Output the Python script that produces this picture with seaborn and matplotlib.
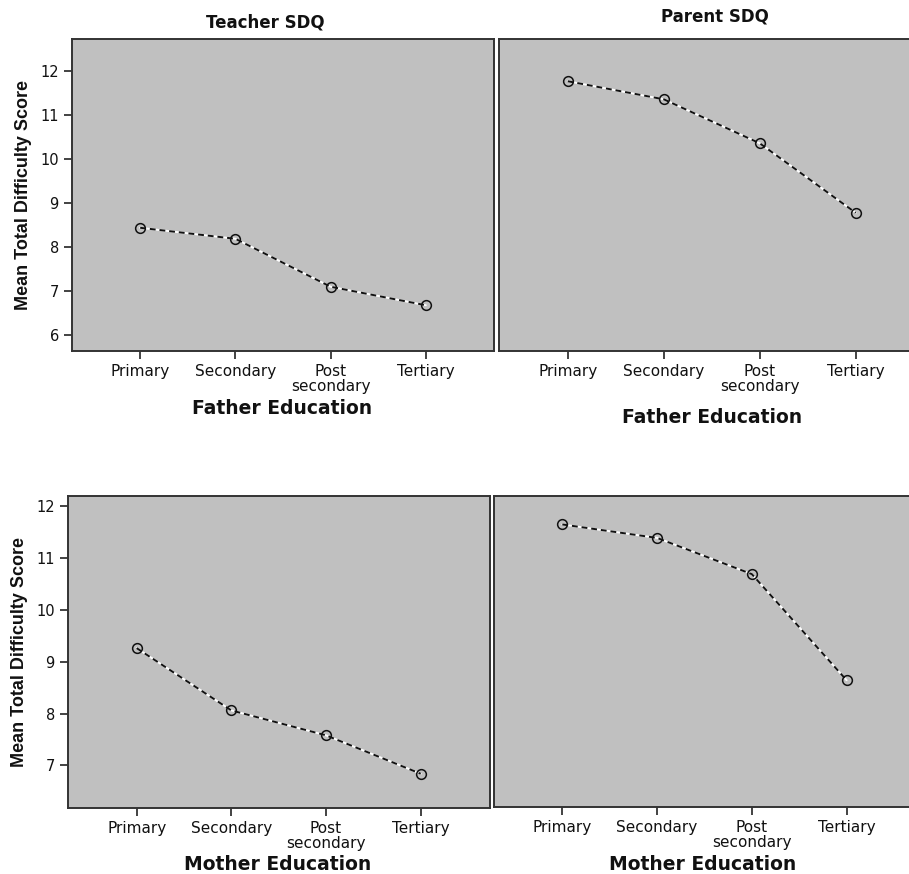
import matplotlib
matplotlib.use('Agg')
import matplotlib.pyplot as plt
import seaborn as sns
from matplotlib import font_manager

levels = ['Primary', 'Secondary', 'Post\nsecondary', 'Tertiary']
teacher_father = [8.44, 8.19, 7.10, 6.68]
parent_father = [11.77, 11.36, 10.36, 8.78]
teacher_mother = [9.26, 8.06, 7.58, 6.84]
parent_mother = [11.64, 11.38, 10.68, 8.63]

top_ticks = [6, 7, 8, 9, 10, 11, 12]
bottom_ticks = [7, 8, 9, 10, 11, 12]

sns.set_style('ticks')
plt.rcParams['font.family'] = ['DejaVu Sans']

# narrow bold font for the y label, if it is there
try:
    font_manager.findfont('Liberation Sans Narrow', fallback_to_default=False)
    ylab_font = dict(family='Liberation Sans Narrow', size=15.5, weight='bold', color='#111111')
except Exception:
    ylab_font = dict(family='Liberation Sans', size=13, weight='bold', color='#111111')

W, H = 909, 874
fig = plt.figure(figsize=(W / 100, H / 100), dpi=100)


def box(l, t, r, b):
    return [l / W, 1 - b / H, (r - l) / W, (b - t) / H]


def draw(ax, vals, xlim, ylim, yticks, show_y):
    ax.set_facecolor('#c0c0c0')
    sns.lineplot(x=levels, y=vals, ax=ax, sort=False, color='white', lw=1.4)
    sns.lineplot(x=levels, y=vals, ax=ax, sort=False, color='#111111', lw=1.4,
                 linestyle=(0, (3, 2)), marker='o', ms=7,
                 markerfacecolor='none', markeredgecolor='#111111',
                 markeredgewidth=1.1)
    ax.set_xlim(*xlim)
    ax.set_ylim(*ylim)
    ax.set_xticks(range(len(levels)))
    ax.set_xticklabels(levels, fontsize=11, linespacing=0.95)
    ax.tick_params(axis='both', length=6, width=1.2, color='#222222', labelcolor='#111111')
    ax.set_xlabel('')
    if show_y:
        ax.set_yticks(yticks)
        ax.set_yticklabels([str(v) for v in yticks], fontsize=10.5)
        ax.set_ylabel('Mean Total Difficulty Score', fontdict=ylab_font, labelpad=6)
    else:
        ax.set_yticks([])
        ax.set_ylabel('')
        ax.spines['right'].set_visible(False)
    for s in ax.spines.values():
        s.set_color('#333333')
        s.set_linewidth(1.4)


ax1 = fig.add_axes(box(72, 39, 494, 351))
ax2 = fig.add_axes(box(499, 39, 912, 351))
ax3 = fig.add_axes(box(68, 496, 490, 808))
ax4 = fig.add_axes(box(494, 496, 912, 807))

draw(ax1, teacher_father, (-0.716, 3.716), (5.64, 12.73), top_ticks, True)
draw(ax2, parent_father, (-0.716, 3.586), (5.64, 12.73), top_ticks, False)
draw(ax3, teacher_mother, (-0.725, 3.732), (6.18, 12.19), bottom_ticks, True)
draw(ax4, parent_mother, (-0.721, 3.69), (6.18, 12.19), bottom_ticks, False)

title_kw = dict(fontsize=12, weight='bold', ha='center', va='center', color='#111111')
fig.text(265 / W, 1 - 22 / H, 'Teacher SDQ', **title_kw)
fig.text(715 / W, 1 - 17 / H, 'Parent SDQ', **title_kw)

xlab_kw = dict(fontsize=13.5, weight='bold', ha='center', va='center', color='#111111')
fig.text(282 / W, 1 - 409 / H, 'Father Education', **xlab_kw)
fig.text(712 / W, 1 - 417 / H, 'Father Education', **xlab_kw)
fig.text(278 / W, 1 - 865 / H, 'Mother Education', **xlab_kw)
fig.text(703 / W, 1 - 864 / H, 'Mother Education', **xlab_kw)

fig.savefig('out.png', dpi=100, facecolor='white')
